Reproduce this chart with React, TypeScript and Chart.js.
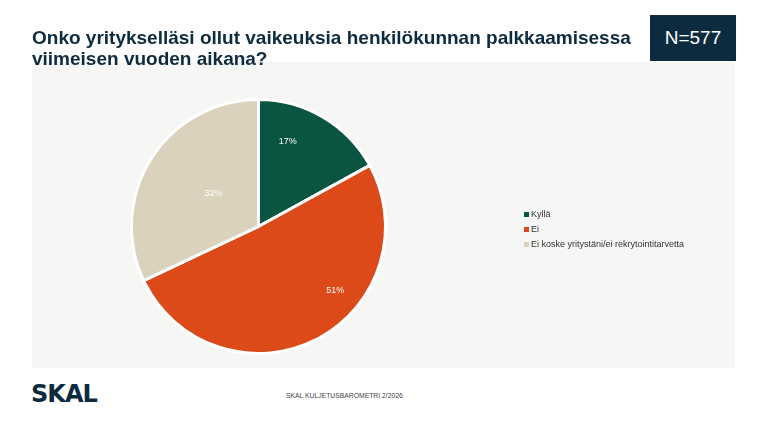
import React, { useEffect, useRef } from "react";
import { Chart, registerables } from "chart.js";

Chart.register(...registerables);

const categories = ["Kyllä", "Ei", "Ei koske yritystäni/ei rekrytointitarvetta"];
const values = [17, 51, 32];
const colors = ["#0a5541", "#dd4a19", "#dbd2bd"];
const labelRadiusFrac = [0.71, 0.79, 0.44];
const labelAngleShift = [-11.6, -23, 4];

const titleLine1 = "Onko yritykselläsi ollut vaikeuksia henkilökunnan palkkaamisessa";
const titleLine2 = "viimeisen vuoden aikana?";
const nText = "N=577";
const footer = "SKAL KULJETUSBAROMETRI 2/2026";

const labelPlugin = {
  id: "pieLabels",
  afterDatasetsDraw(chart: any) {
    const meta = chart.getDatasetMeta(0);
    const ctx = chart.ctx;
    ctx.save();
    ctx.fillStyle = "#ffffff";
    ctx.font = "9px 'Liberation Sans', Arial, sans-serif";
    ctx.textAlign = "center";
    ctx.textBaseline = "middle";
    meta.data.forEach((arc: any, i: number) => {
      const { x, y, startAngle, endAngle, outerRadius } = arc.getProps(["x", "y", "startAngle", "endAngle", "outerRadius"], true);
      const mid = (startAngle + endAngle) / 2 + (labelAngleShift[i] * Math.PI) / 180;
      const r = outerRadius * labelRadiusFrac[i];
      ctx.fillText(values[i] + "%", x + Math.cos(mid) * r, y + Math.sin(mid) * r);
    });
    ctx.restore();
  },
};

function PieChart() {
  const ref = useRef<HTMLCanvasElement>(null);
  useEffect(() => {
    if (!ref.current) return;
    const chart = new Chart(ref.current, {
      type: "pie",
      data: {
        labels: categories,
        datasets: [
          {
            data: values,
            backgroundColor: colors,
            borderColor: "#ffffff",
            borderWidth: 3,
          },
        ],
      },
      options: {
        animation: false,
        responsive: false,
        maintainAspectRatio: false,
        layout: { padding: { left: 98, right: 348, top: 36, bottom: 13 } },
        plugins: {
          legend: { display: false },
          tooltip: { enabled: false },
        },
      },
      plugins: [labelPlugin],
    });
    return () => chart.destroy();
  }, []);
  return <canvas ref={ref} width={703} height={306} style={{ position: "absolute", left: 0, top: 0 }} />;
}

export default function App() {
  const font = "'Liberation Sans', Arial, sans-serif";
  return (
    <div
      style={{
        position: "fixed",
        left: 0,
        top: 0,
        width: 767,
        height: 431,
        background: "#ffffff",
        fontFamily: font,
        overflow: "hidden",
      }}
    >
      <div
        style={{
          position: "absolute",
          left: 32,
          top: 62,
          width: 703,
          height: 306,
          background: "#f6f6f4",
          borderRadius: 3,
        }}
      >
        <PieChart />
        <div style={{ position: "absolute", left: 492, top: 145, fontSize: 9, color: "#333", lineHeight: "15px" }}>
          {categories.map((c, i) => (
            <div key={c} style={{ display: "flex", alignItems: "center" }}>
              <span style={{ display: "inline-block", width: 5, height: 5, background: colors[i], marginRight: 2 }} />
              {c}
            </div>
          ))}
        </div>
      </div>
      <div
        style={{
          position: "absolute",
          left: 32,
          top: 27,
          width: 620,
          fontSize: 19,
          fontWeight: "bold",
          color: "#0d2b3e",
          lineHeight: "21px",
          whiteSpace: "nowrap",
        }}
      >
        {titleLine1}
        <br />
        {titleLine2}
      </div>
      <div
        style={{
          position: "absolute",
          left: 650,
          top: 15,
          width: 86,
          height: 46,
          background: "#0d2b3e",
          color: "#ffffff",
          fontSize: 19,
          display: "flex",
          alignItems: "center",
          justifyContent: "center",
        }}
      >
        {nText}
      </div>
      <div
        style={{
          position: "absolute",
          left: 31,
          top: 380,
          fontSize: 24,
          lineHeight: "28px",
          fontWeight: 900,
          color: "#0d2b3e",
          letterSpacing: -1,
          fontFamily: "'DejaVu Sans', sans-serif",
        }}
      >
        SKAL
      </div>
      <div
        style={{
          position: "absolute",
          left: 286,
          top: 392,
          fontSize: 6.8,
          color: "#444",
        }}
      >
        {footer}
      </div>
    </div>
  );
}
